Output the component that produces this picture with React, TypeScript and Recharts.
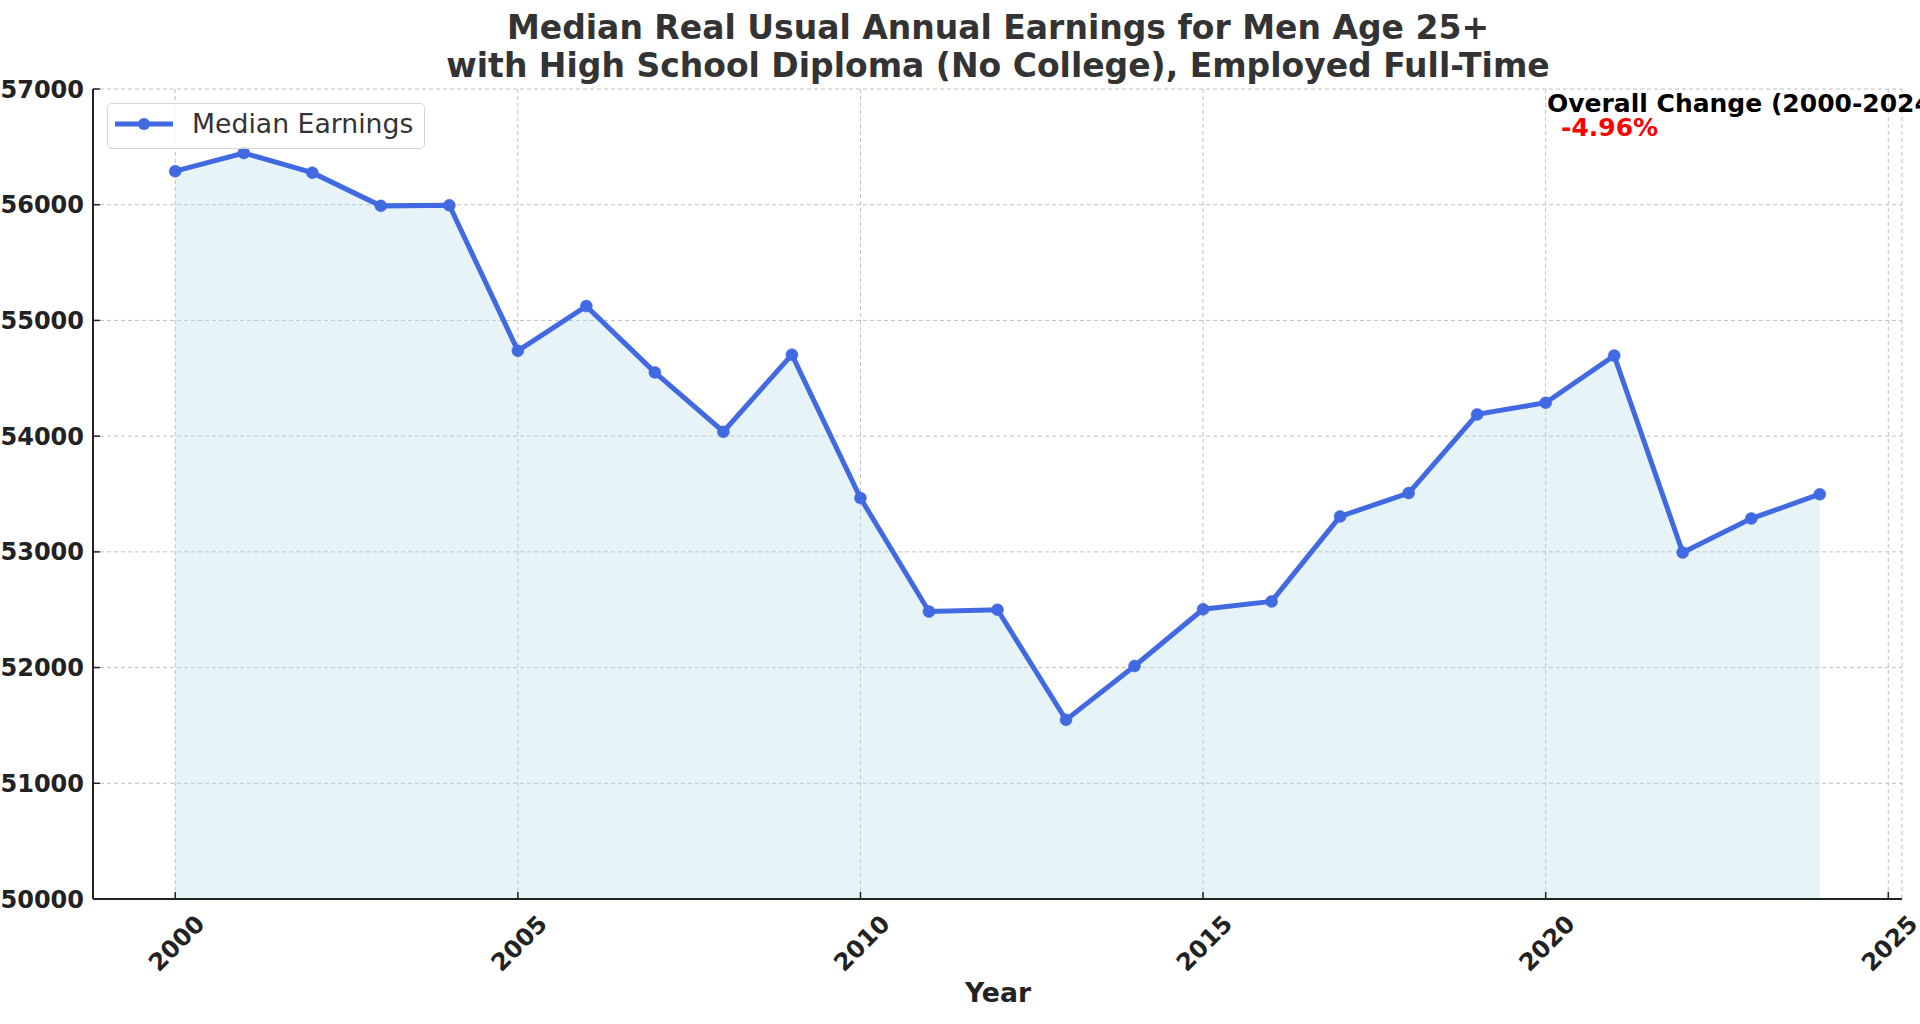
import {
  Area,
  CartesianGrid,
  ComposedChart,
  Legend,
  Line,
  XAxis,
  YAxis,
} from 'recharts'

const years = [
  2000, 2001, 2002, 2003, 2004, 2005, 2006, 2007, 2008, 2009, 2010, 2011, 2012,
  2013, 2014, 2015, 2016, 2017, 2018, 2019, 2020, 2021, 2022, 2023, 2024,
]
const earnings = [
  56290, 56447, 56277, 55990, 55995, 54738, 55124, 54551, 54038, 54704, 53465,
  52484, 52500, 51548, 52014, 52504, 52572, 53306, 53508, 54188, 54289, 54696,
  52994, 53288, 53498,
]
const xTicks = [2000, 2005, 2010, 2015, 2020, 2025]
const yTicks = [50000, 51000, 52000, 53000, 54000, 55000, 56000, 57000]

const titleLines = [
  'Median Real Usual Annual Earnings for Men Age 25+',
  'with High School Diploma (No College), Employed Full-Time',
]
const seriesName = 'Median Earnings'
const changeLabel = 'Overall Change (2000-2024):'
const changeValue = '-4.96%'

const data = years.map((year, i) => ({ year, earnings: earnings[i] }))

const FONT = '"DejaVu Sans", sans-serif'
const BLUE = '#4169e1'

function YTick({ x, y, payload }: any) {
  return (
    <g>
      <line x1={x} x2={x + 7} y1={y} y2={y} stroke="#222" strokeWidth={1.5} />
      <text
        x={x - 9}
        y={y}
        dy="0.36em"
        textAnchor="end"
        fontFamily={FONT}
        fontWeight="bold"
        fontSize={24}
        fill="#222"
      >
        {payload.value}
      </text>
    </g>
  )
}

function XTick({ x, y, payload }: any) {
  return (
    <g>
      <line x1={x} x2={x} y1={y} y2={y - 7} stroke="#222" strokeWidth={1.5} />
      <g transform={`translate(${x + 1},${y + 44}) rotate(-45)`}>
        <text
          x={0}
          y={0}
          dy="0.36em"
          textAnchor="middle"
          fontFamily={FONT}
          fontWeight="bold"
          fontSize={24}
          fill="#222"
        >
          {payload.value}
        </text>
      </g>
    </g>
  )
}

function LegendBox() {
  return (
    <div
      style={{
        width: 318,
        height: 46,
        boxSizing: 'border-box',
        border: '1.5px solid #d4d4d4',
        borderRadius: 5,
        background: 'rgba(255,255,255,0.8)',
      }}
    >
      <svg width={315} height={43} style={{ display: 'block' }}>
        <line x1={7} x2={65} y1={20} y2={20} stroke={BLUE} strokeWidth={5} />
        <circle cx={36} cy={20} r={6} fill={BLUE} />
        <text x={84} y={29} fontFamily={FONT} fontSize={26.7} fill="#333">
          {seriesName}
        </text>
      </svg>
    </div>
  )
}

export default function App() {
  return (
    <div
      style={{
        position: 'absolute',
        left: 0,
        top: 0,
        width: 1920,
        height: 1024,
        overflow: 'hidden',
        background: '#fff',
      }}
    >
      <ComposedChart
        width={1920}
        height={1024}
        data={data}
        margin={{ top: 89, right: 18, bottom: 0, left: 0 }}
      >
        <CartesianGrid stroke="#c0c0c0" strokeDasharray="4 3" strokeWidth={1} />
        <XAxis
          dataKey="year"
          type="number"
          domain={[1998.8, 2025.2]}
          ticks={xTicks}
          height={125}
          tickSize={0}
          tickMargin={0}
          tickLine={false}
          axisLine={{ stroke: '#222', strokeWidth: 2 }}
          tick={<XTick />}
          interval={0}
        />
        <YAxis
          type="number"
          domain={[50000, 57000]}
          ticks={yTicks}
          width={93}
          tickSize={0}
          tickMargin={0}
          tickLine={false}
          axisLine={{ stroke: '#222', strokeWidth: 2 }}
          tick={<YTick />}
          interval={0}
        />
        <Area
          dataKey="earnings"
          type="linear"
          stroke="none"
          fill="#add8e6"
          fillOpacity={0.3}
          legendType="none"
          isAnimationActive={false}
        />
        <Line
          dataKey="earnings"
          name={seriesName}
          type="linear"
          stroke={BLUE}
          strokeWidth={5}
          dot={{ r: 6, fill: BLUE, stroke: BLUE, strokeWidth: 0.5 }}
          activeDot={false}
          isAnimationActive={false}
        />
        <Legend
          layout="horizontal"
          verticalAlign="middle"
          align="center"
          wrapperStyle={{ left: 107, top: 103, width: 'auto', height: 'auto' }}
          content={() => <LegendBox />}
        />
      </ComposedChart>
      <svg
        width={1920}
        height={1024}
        style={{ position: 'absolute', left: 0, top: 0, pointerEvents: 'none' }}
      >
        {titleLines.map((line, i) => (
          <text
            key={line}
            x={998}
            y={39 + i * 38}
            textAnchor="middle"
            fontFamily={FONT}
            fontWeight="bold"
            fontSize={33}
            fill="#333"
          >
            {line}
          </text>
        ))}
        <text
          x={998}
          y={1002}
          textAnchor="middle"
          fontFamily={FONT}
          fontWeight="bold"
          fontSize={26.7}
          fill="#222"
        >
          Year
        </text>
        <text x={1547} y={112} fontFamily={FONT} fontWeight="bold" fontSize={25} fill="#000">
          {changeLabel}
        </text>
        <text x={1561} y={136} fontFamily={FONT} fontWeight="bold" fontSize={25} fill="#ff0000">
          {changeValue}
        </text>
      </svg>
    </div>
  )
}
